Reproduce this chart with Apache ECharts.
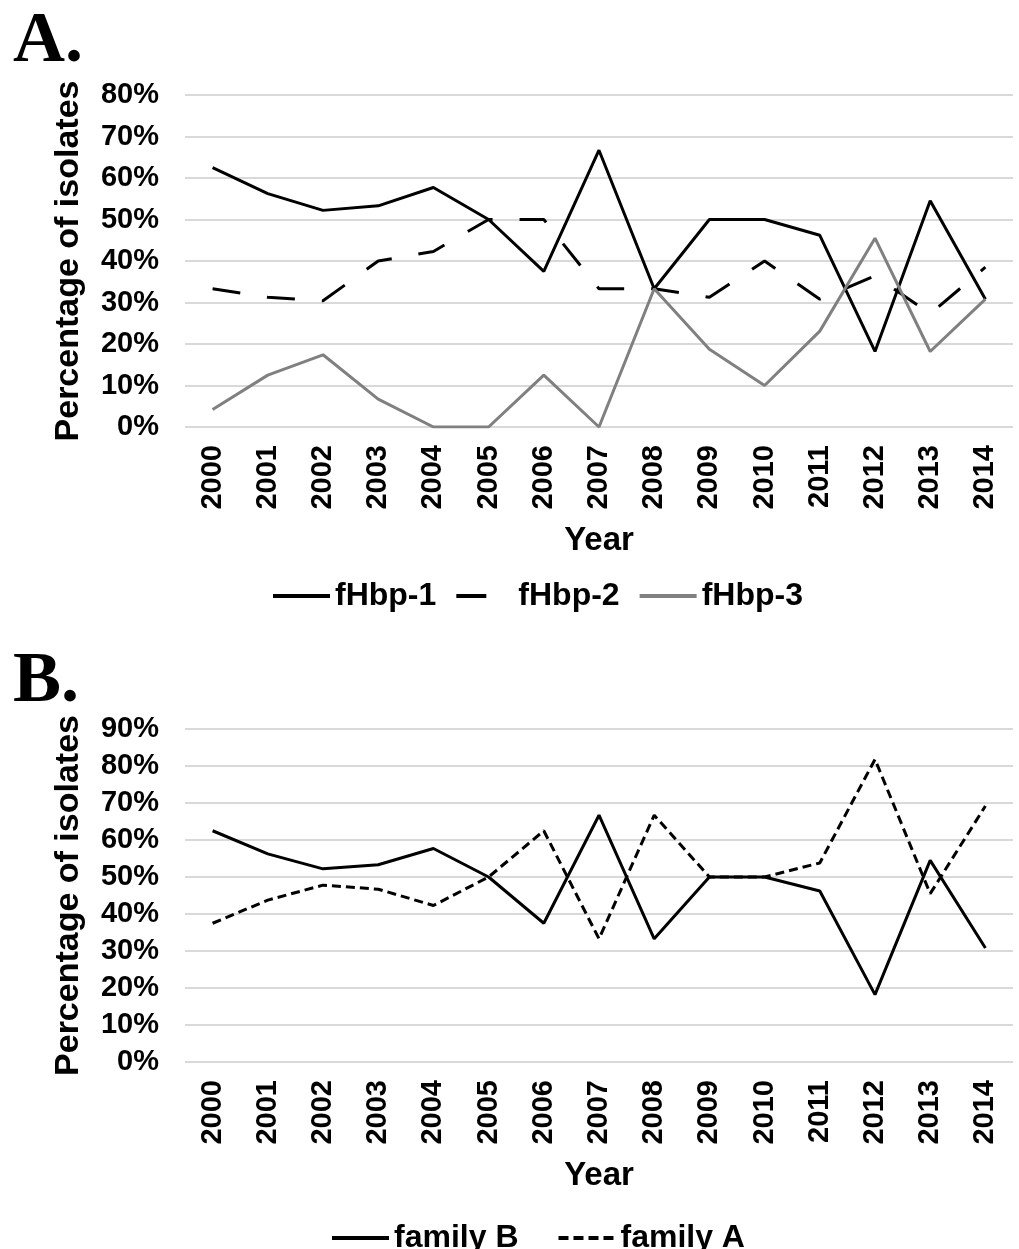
<!DOCTYPE html>
<html>
<head>
<meta charset="utf-8">
<script src="https://cdn.jsdelivr.net/npm/echarts@6/dist/echarts.min.js"></script>
<style>
  html, body { margin: 0; padding: 0; background: #fff; }
  #chart { width: 1019px; height: 1249px; }
</style>
</head>
<body>
<div id="chart"></div>
<script>
// years on the x axis (both panels)
var years = ['2000','2001','2002','2003','2004','2005','2006','2007','2008','2009','2010','2011','2012','2013','2014'];

// panel A - percentage of isolates per fHbp variant
var fhbp1 = [62.5, 56.25, 52.2, 53.3, 57.7, 50, 37.5, 66.7, 33.3, 50, 50, 46.2, 18.2, 54.5, 30.8];
var fhbp2 = [33.3, 31.25, 30.4, 40, 42.3, 50, 50, 33.3, 33.3, 31.25, 40, 30.8, 36.4, 27.3, 38.5];
var fhbp3 = [4.2, 12.5, 17.4, 6.7, 0, 0, 12.5, 0, 33.3, 18.75, 10, 23.1, 45.5, 18.2, 30.8];

// panel B - percentage per family
var familyB = [62.5, 56.25, 52.2, 53.3, 57.7, 50, 37.5, 66.7, 33.3, 50, 50, 46.2, 18.2, 54.5, 30.8];
var familyA = [37.5, 43.75, 47.8, 46.7, 42.3, 50, 62.5, 33.3, 66.7, 50, 50, 53.8, 81.8, 45.5, 69.2];

var font = 'Liberation Sans, Arial, sans-serif';
var gridColor = '#d9d9d9';

function xAxisFor(idx) {
    return {
        type: 'category',
        gridIndex: idx,
        data: years,
        boundaryGap: true,
        axisLine: { show: false },
        axisTick: { show: false },
        axisLabel: {
            interval: 0, rotate: 90, margin: 18,
            color: '#000', fontFamily: font, fontWeight: 'bold', fontSize: 29
        },
        name: 'Year',
        nameLocation: 'middle',
        nameGap: 97,
        nameTextStyle: { color: '#000', fontFamily: font, fontWeight: 'bold', fontSize: 33 }
    };
}

function yAxisFor(idx, max) {
    return {
        type: 'value',
        gridIndex: idx,
        min: 0, max: max, interval: 10,
        axisLine: { show: false },
        axisTick: { show: false },
        splitLine: { lineStyle: { color: gridColor, width: 2 } },
        axisLabel: {
            formatter: '{value}%', margin: 26,
            color: '#000', fontFamily: font, fontWeight: 'bold', fontSize: 29
        },
        name: 'Percentage of isolates',
        nameLocation: 'middle',
        nameGap: 99,
        nameTextStyle: { color: '#000', fontFamily: font, fontWeight: 'bold', fontSize: 34 }
    };
}

var legendText = { color: '#000', fontFamily: font, fontWeight: 'bold', fontSize: 32 };

var chart = echarts.init(document.getElementById('chart'));
var option = {
    backgroundColor: '#fff',
    animation: false,
    title: [
        { text: 'A.', left: 8, top: 1, textStyle: { fontFamily: 'Liberation Serif, serif', fontWeight: 'bold', fontSize: 72, color: '#000' } },
        { text: 'B.', left: 8, top: 641, textStyle: { fontFamily: 'Liberation Serif, serif', fontWeight: 'bold', fontSize: 72, color: '#000' } }
    ],
    grid: [
        { left: 185, right: 6, top: 95, height: 332 },
        { left: 185, right: 6, top: 729, height: 333 }
    ],
    xAxis: [xAxisFor(0), xAxisFor(1)],
    yAxis: [yAxisFor(0, 80), yAxisFor(1, 90)],
    legend: [
        {
            data: [
                { name: 'fHbp-1' },
                { name: 'fHbp-2', lineStyle: { type: [30, 40] } },
                { name: 'fHbp-3' }
            ],
            left: 266, top: 575,
            itemWidth: 57, itemHeight: 14, itemGap: 18,
            itemStyle: { opacity: 0 },
            lineStyle: { width: 4 },
            textStyle: legendText
        },
        {
            data: [
                { name: 'family B' },
                { name: 'family A', lineStyle: { type: [10, 5] } }
            ],
            left: 325, top: 1217,
            itemWidth: 57, itemHeight: 14, itemGap: 38,
            itemStyle: { opacity: 0 },
            lineStyle: { width: 4 },
            textStyle: legendText
        }
    ],
    series: [
        { name: 'fHbp-1', type: 'line', xAxisIndex: 0, yAxisIndex: 0, data: fhbp1, symbol: 'none',
          lineStyle: { color: '#000', width: 3 }, itemStyle: { color: '#000' } },
        { name: 'fHbp-2', type: 'line', xAxisIndex: 0, yAxisIndex: 0, data: fhbp2, symbol: 'none',
          lineStyle: { color: '#000', width: 3, type: [28, 27] }, itemStyle: { color: '#000' } },
        { name: 'fHbp-3', type: 'line', xAxisIndex: 0, yAxisIndex: 0, data: fhbp3, symbol: 'none',
          lineStyle: { color: '#808080', width: 3 }, itemStyle: { color: '#808080' } },
        { name: 'family B', type: 'line', xAxisIndex: 1, yAxisIndex: 1, data: familyB, symbol: 'none',
          lineStyle: { color: '#000', width: 3 }, itemStyle: { color: '#000' } },
        { name: 'family A', type: 'line', xAxisIndex: 1, yAxisIndex: 1, data: familyA, symbol: 'none',
          lineStyle: { color: '#000', width: 3, type: [9, 5] }, itemStyle: { color: '#000' } }
    ]
};
chart.setOption(option);
</script>
</body>
</html>
